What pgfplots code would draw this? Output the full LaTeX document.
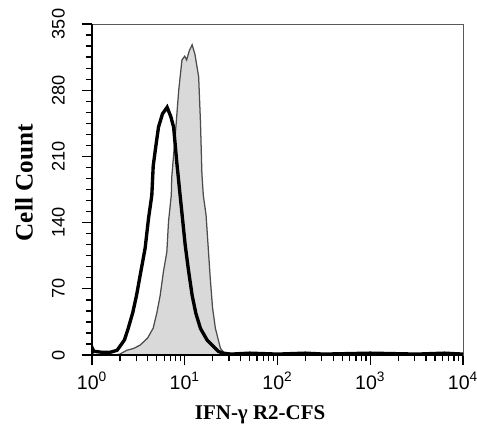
\documentclass[border=0pt]{standalone}
\usepackage{fontspec}
\setmainfont{Liberation Serif}
\newfontfamily\sansf{Liberation Sans}
\usepackage{pgfplots}
\pgfplotsset{compat=1.18}
\usetikzlibrary{calc}

% histogram outlines (x = fluorescence, y = cell count)
\pgfplotstableread{
x y
1.000 0
1.000 8
1.047 4
1.259 3
1.585 3
1.862 5
1.995 9
2.239 16
2.455 28
2.754 45
3.020 63
3.388 90
3.741 113
4.074 145
4.416 169
4.571 200
4.898 222
5.212 241
5.754 255
6.457 262
7.079 252
7.586 241
8.222 203
8.913 169
10.12 116
10.96 90
12.02 63
13.18 44
14.79 28
17.38 16
20.42 9
22.91 4
25.70 2
31.62 1
50.12 2
100.0 1
199.5 2
316.2 1
1000 2
3162 1
6310 2
10000 1
}\isotype

\pgfplotstableread{
x y
1.778 0
1.995 1
2.371 5
2.818 7
3.311 10.6
3.981 18
4.571 28.5
5.012 45
5.433 63
5.888 88
6.412 109
6.683 141
7.161 169
7.244 188
7.943 235
8.610 280
9.333 312
10.00 316
10.47 312
11.22 322
12.02 328
12.88 318
14.13 294
14.79 245
15.31 192
15.85 169
16.98 148
18.84 81
19.95 50
21.38 28.5
24.27 7
26.92 2
31.62 0
}\stained

\begin{document}
\begin{tikzpicture}
\begin{axis}[
  name=ax,
  scale only axis,
  width=9.333cm, height=8.327cm,
  xmode=log,
  xmin=1, xmax=10000,
  ymin=0, ymax=350,
  xtick={1,10,100,1000,10000},
  minor xtick={2,3,4,5,6,7,8,9,20,30,40,50,60,70,80,90,200,300,400,500,600,700,800,900,2000,3000,4000,5000,6000,7000,8000,9000},
  xticklabels={10\textsuperscript{0},10\textsuperscript{1},10\textsuperscript{2},10\textsuperscript{3},10\textsuperscript{4}},
  ytick={0,70,140,210,280,350},
  minor y tick num=5,
  xtick pos=bottom, ytick pos=left,
  tick align=outside,
  major tick length=0.26cm,
  minor tick length=0.16cm,
  tick style={black, line width=0.9pt},
  axis line style={draw=black!65, line width=0.6pt},
  xticklabel style={font=\sansf\fontsize{14}{16}\selectfont, yshift=-0.05cm},
  yticklabel style={font=\sansf\fontsize{13}{14}\selectfont, xshift=-0.3cm, rotate=90, anchor=south},
  /pgf/number format/assume math mode=true,
  xlabel={\textbf{IFN-γ R2-CFS}},
  ylabel={\textbf{Cell Count}},
  xlabel style={font=\fontsize{15}{17}\selectfont, at={(axis description cs:0.453,0)}, anchor=center, yshift=-1.5cm},
  ylabel style={font=\fontsize{18}{20}\selectfont, at={(axis description cs:-0.183,0.52)}, anchor=center},
]
\addplot[fill=gray!30, draw=black!70, line width=0.9pt] table[x=x,y=y] {\stained} \closedcycle;
\addplot[black, line width=2.4pt] table[x=x,y=y] {\isotype};
\end{axis}
\draw[black, line width=1.4pt] (ax.north west) -- (ax.south west) -- (ax.south east);
\pgfresetboundingbox
\path ($(ax.south west)+(-2.314cm,-1.761cm)$) rectangle ($(ax.north east)+(0.352cm,0.604cm)$);
\end{tikzpicture}
\end{document}
